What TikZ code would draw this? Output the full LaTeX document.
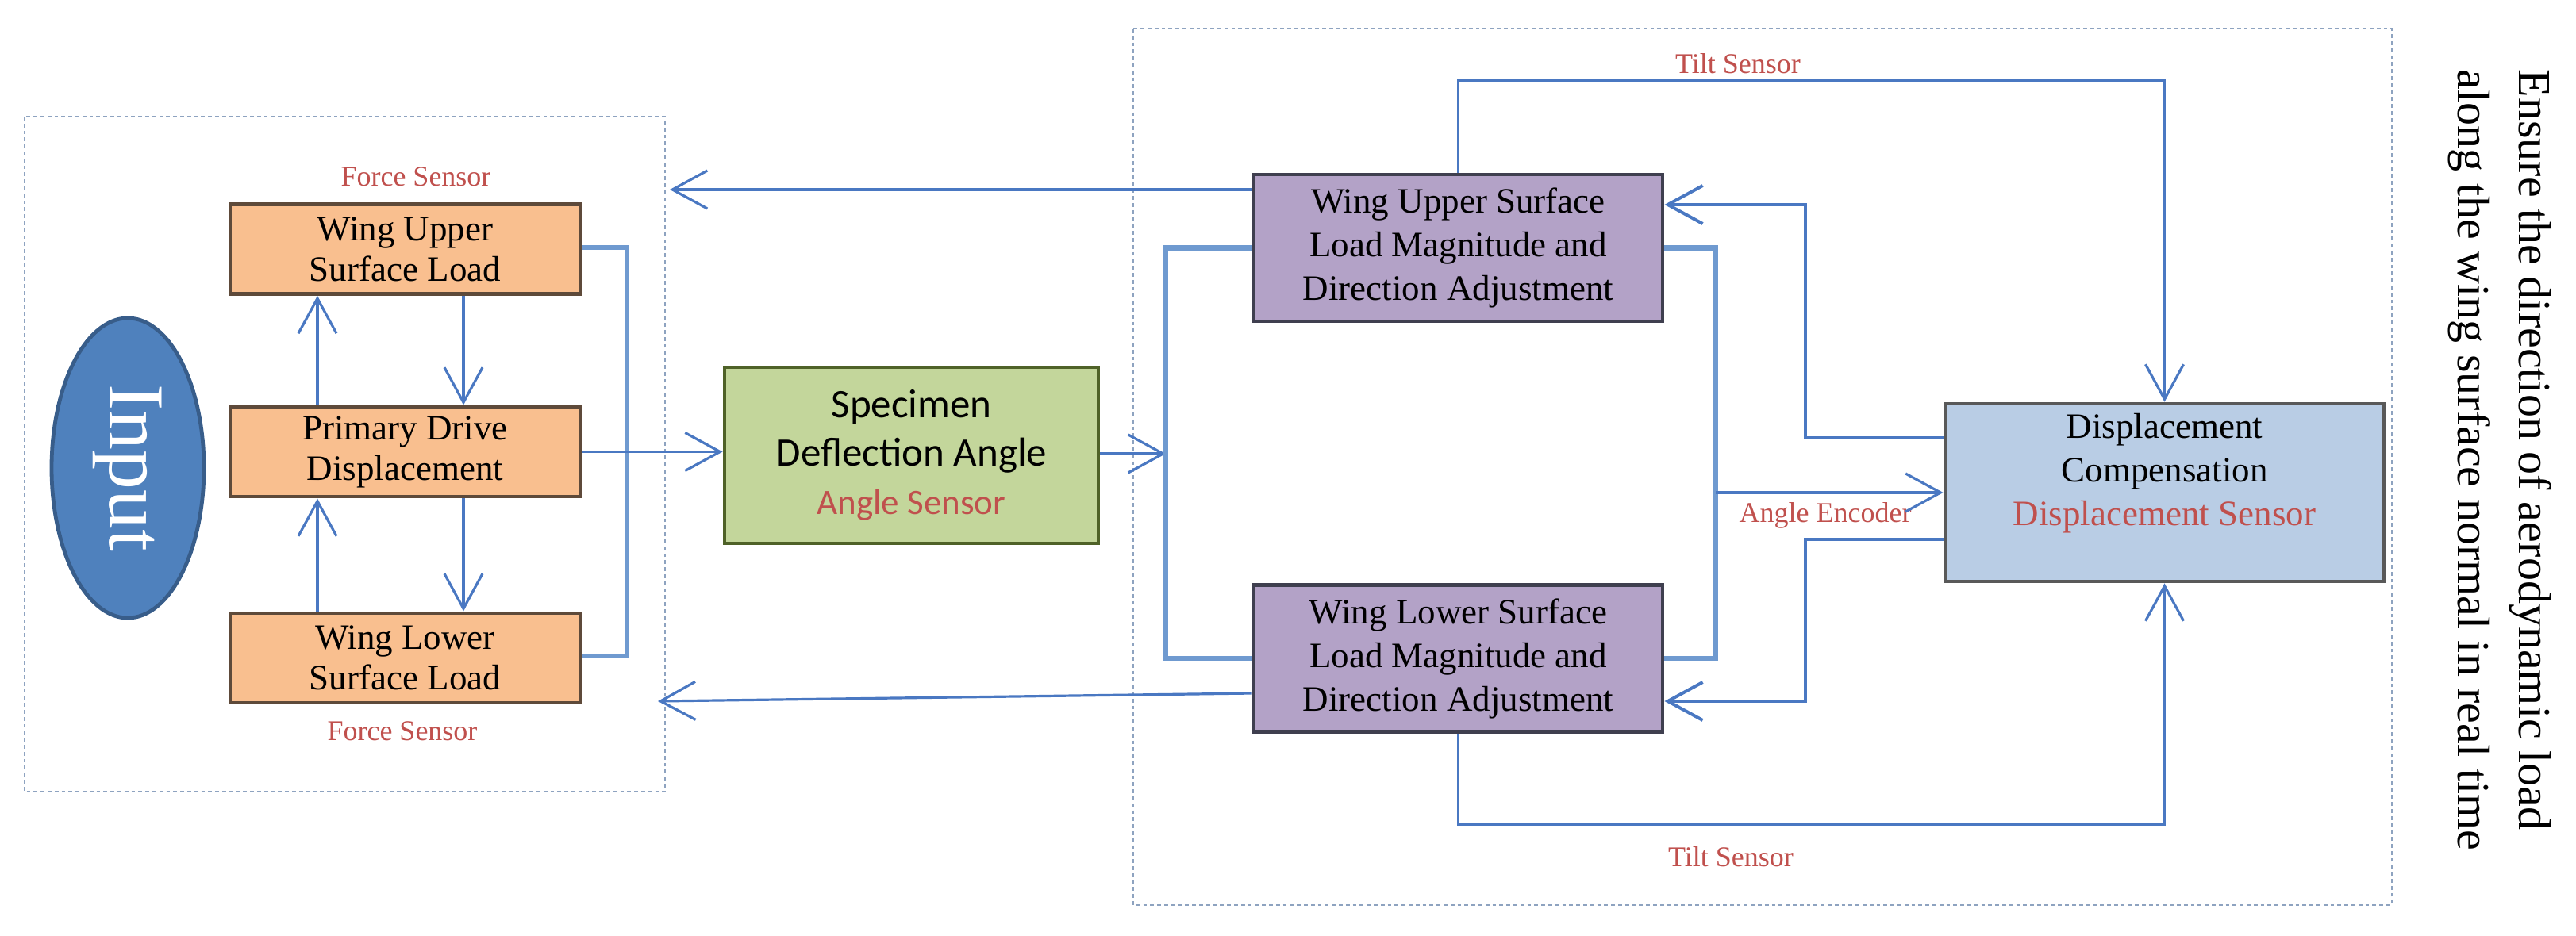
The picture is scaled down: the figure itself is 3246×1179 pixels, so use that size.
\documentclass[tikz,border=0pt]{standalone}
\usepackage{fontspec}
\setmainfont{Liberation Serif}
\newfontfamily\calfont{Carlito}
\usetikzlibrary{arrows.meta,shapes.geometric,calc}
\definecolor{inputfill}{HTML}{4F81BD}
\definecolor{inputdraw}{HTML}{385D8A}
\definecolor{orfill}{HTML}{F9BF8F}
\definecolor{ordraw}{HTML}{5E4A3A}
\definecolor{grfill}{HTML}{C3D69B}
\definecolor{grdraw}{HTML}{4F6228}
\definecolor{pufill}{HTML}{B3A2C7}
\definecolor{pudraw}{HTML}{3F3F4F}
\definecolor{blfill}{HTML}{B9CDE5}
\definecolor{bldraw}{HTML}{595959}
\definecolor{linec}{HTML}{4A78C2}
\definecolor{brackc}{HTML}{6F9AD0}
\definecolor{redtxt}{HTML}{C0504D}
\definecolor{dashc}{HTML}{8EA3C0}
\begin{document}
\begin{tikzpicture}[x=0.25pt,y=-0.25pt,
  obox/.style={draw=ordraw,fill=orfill,line width=1.2pt,inner sep=0pt,align=center,
    minimum width=110.25pt,minimum height=28.25pt,font=\fontsize{11.25}{12.75}\selectfont},
  pbox/.style={draw=pudraw,fill=pufill,line width=1.2pt,inner sep=0pt,align=center,
    minimum width=128.75pt,minimum height=46.25pt,font=\fontsize{11.25}{13.75}\selectfont},
  gbox/.style={draw=grdraw,fill=grfill,line width=1.2pt,inner sep=0pt,align=center,
    minimum width=117.75pt,minimum height=55.5pt,font=\calfont\fontsize{12.75}{15.2}\selectfont},
  bbox/.style={draw=bldraw,fill=blfill,line width=1.2pt,inner sep=0pt,
    minimum width=138.25pt,minimum height=56pt},
  lab/.style={text=redtxt,inner sep=0pt,font=\fontsize{9}{10}\selectfont},
  conn/.style={draw=linec,line width=0.8pt},
  arr/.style={-{Straight Barb[length=11pt,width=12pt]}},
  brack/.style={draw=brackc,line width=1.6pt},
  dbox/.style={draw=dashc,line width=0.5pt,dash pattern=on 1.2pt off 1pt}
]
\useasboundingbox (0,0) rectangle (3246,1179);
% dashed group frames
\draw[dbox] (31,147) rectangle (838,998);
\draw[dbox] (1428,36) rectangle (3014,1141);
% nodes
\node[ellipse,draw=inputdraw,line width=1.2pt,fill=inputfill,minimum width=48pt,minimum height=94.5pt,inner sep=0pt] (in) at (161,590) {};
\node[rotate=-90,text=white,font=\fontsize{25}{25}\selectfont] (intext) at (161,590) {Input};
\node[obox] (uo) at (510.5,314) {Wing Upper\\Surface Load};
\node[obox] (mo) at (510.5,569.5) {Primary Drive\\Displacement};
\node[obox] (lo) at (510.5,829.5) {Wing Lower\\Surface Load};
\node[gbox] (sp) at (1148.5,574) {Specimen\\Deflection Angle\\{\fontsize{11.25}{15.2}\selectfont\color{redtxt}Angle Sensor}};
\node[pbox] (pu) at (1837.5,312.5) {Wing Upper Surface\\Load Magnitude and\\Direction Adjustment};
\node[pbox] (pl) at (1837.5,830) {Wing Lower Surface\\Load Magnitude and\\Direction Adjustment};
\node[bbox] (dc) at (2727.5,621) {};
\node[align=center,inner sep=0pt,font=\fontsize{11.25}{13.75}\selectfont] (dctext) at (2727.5,597) {Displacement\\Compensation\\\textcolor{redtxt}{Displacement Sensor}};
\node[rotate=-90,align=left,inner sep=0pt,font=\fontsize{14.5}{19.3}\selectfont] (note) at (3150,580) {Ensure the direction of aerodynamic load\\along the wing surface normal in real time};
% labels
\node[lab] (fs1) at (524,223) {Force Sensor};
\node[lab] (fs2) at (507,922) {Force Sensor};
\node[lab] (ts1) at (2190,80) {Tilt Sensor};
\node[lab] (ts2) at (2181,1080) {Tilt Sensor};
\node[lab] (ae) at (2300,650) {Angle Encoder};
% coordinates
\coordinate (rb) at (1469,572);
\coordinate (rb2) at (2162,621);
\coordinate (ftop) at (844,239);
\coordinate (fbot) at (829,884);
% left group connectors
\draw[conn,arr] (mo.north -| 400,0) -- (uo.south -| 400,0);
\draw[conn,arr] (lo.north -| 400,0) -- (mo.south -| 400,0);
\draw[conn,arr] (uo.south -| 584,0) -- (mo.north -| 584,0);
\draw[conn,arr] (mo.south -| 584,0) -- (lo.north -| 584,0);
\draw[brack] (uo.east |- 0,312) -- (790,312) -- (790,827) -- (lo.east |- 0,827);
\draw[conn,arr] (mo.east) -- (mo.east -| sp.west);
% centre
\draw[conn,arr] (sp.east |- rb) -- (rb);
\draw[brack] (pu.west) -- (pu.west -| rb) -- (pl.west -| rb) -- (pl.west);
\draw[conn,arr] (pu.west |- ftop) -- (ftop);
\draw[conn,arr] (pl.west |- 0,874) -- (fbot);
% right group
\draw[brack] (pu.east) -- (pu.east -| rb2) -- (pl.east -| rb2) -- (pl.east);
\draw[conn,arr] (rb2) -- (dc.west);
\draw[conn,arr] (pu.north) -- (pu.north |- 0,101) -| (dc.north);
\draw[conn,arr] (pl.south) -- (pl.south |- 0,1039) -| (dc.south);
\draw[conn,line width=1pt,arr] (dc.west |- 0,552) -| (2275,258) -- (pu.east |- 0,258);
\draw[conn,line width=1pt,arr] (dc.west |- 0,680) -| (2275,884) -- (pl.east |- 0,884);
\end{tikzpicture}
\end{document}
